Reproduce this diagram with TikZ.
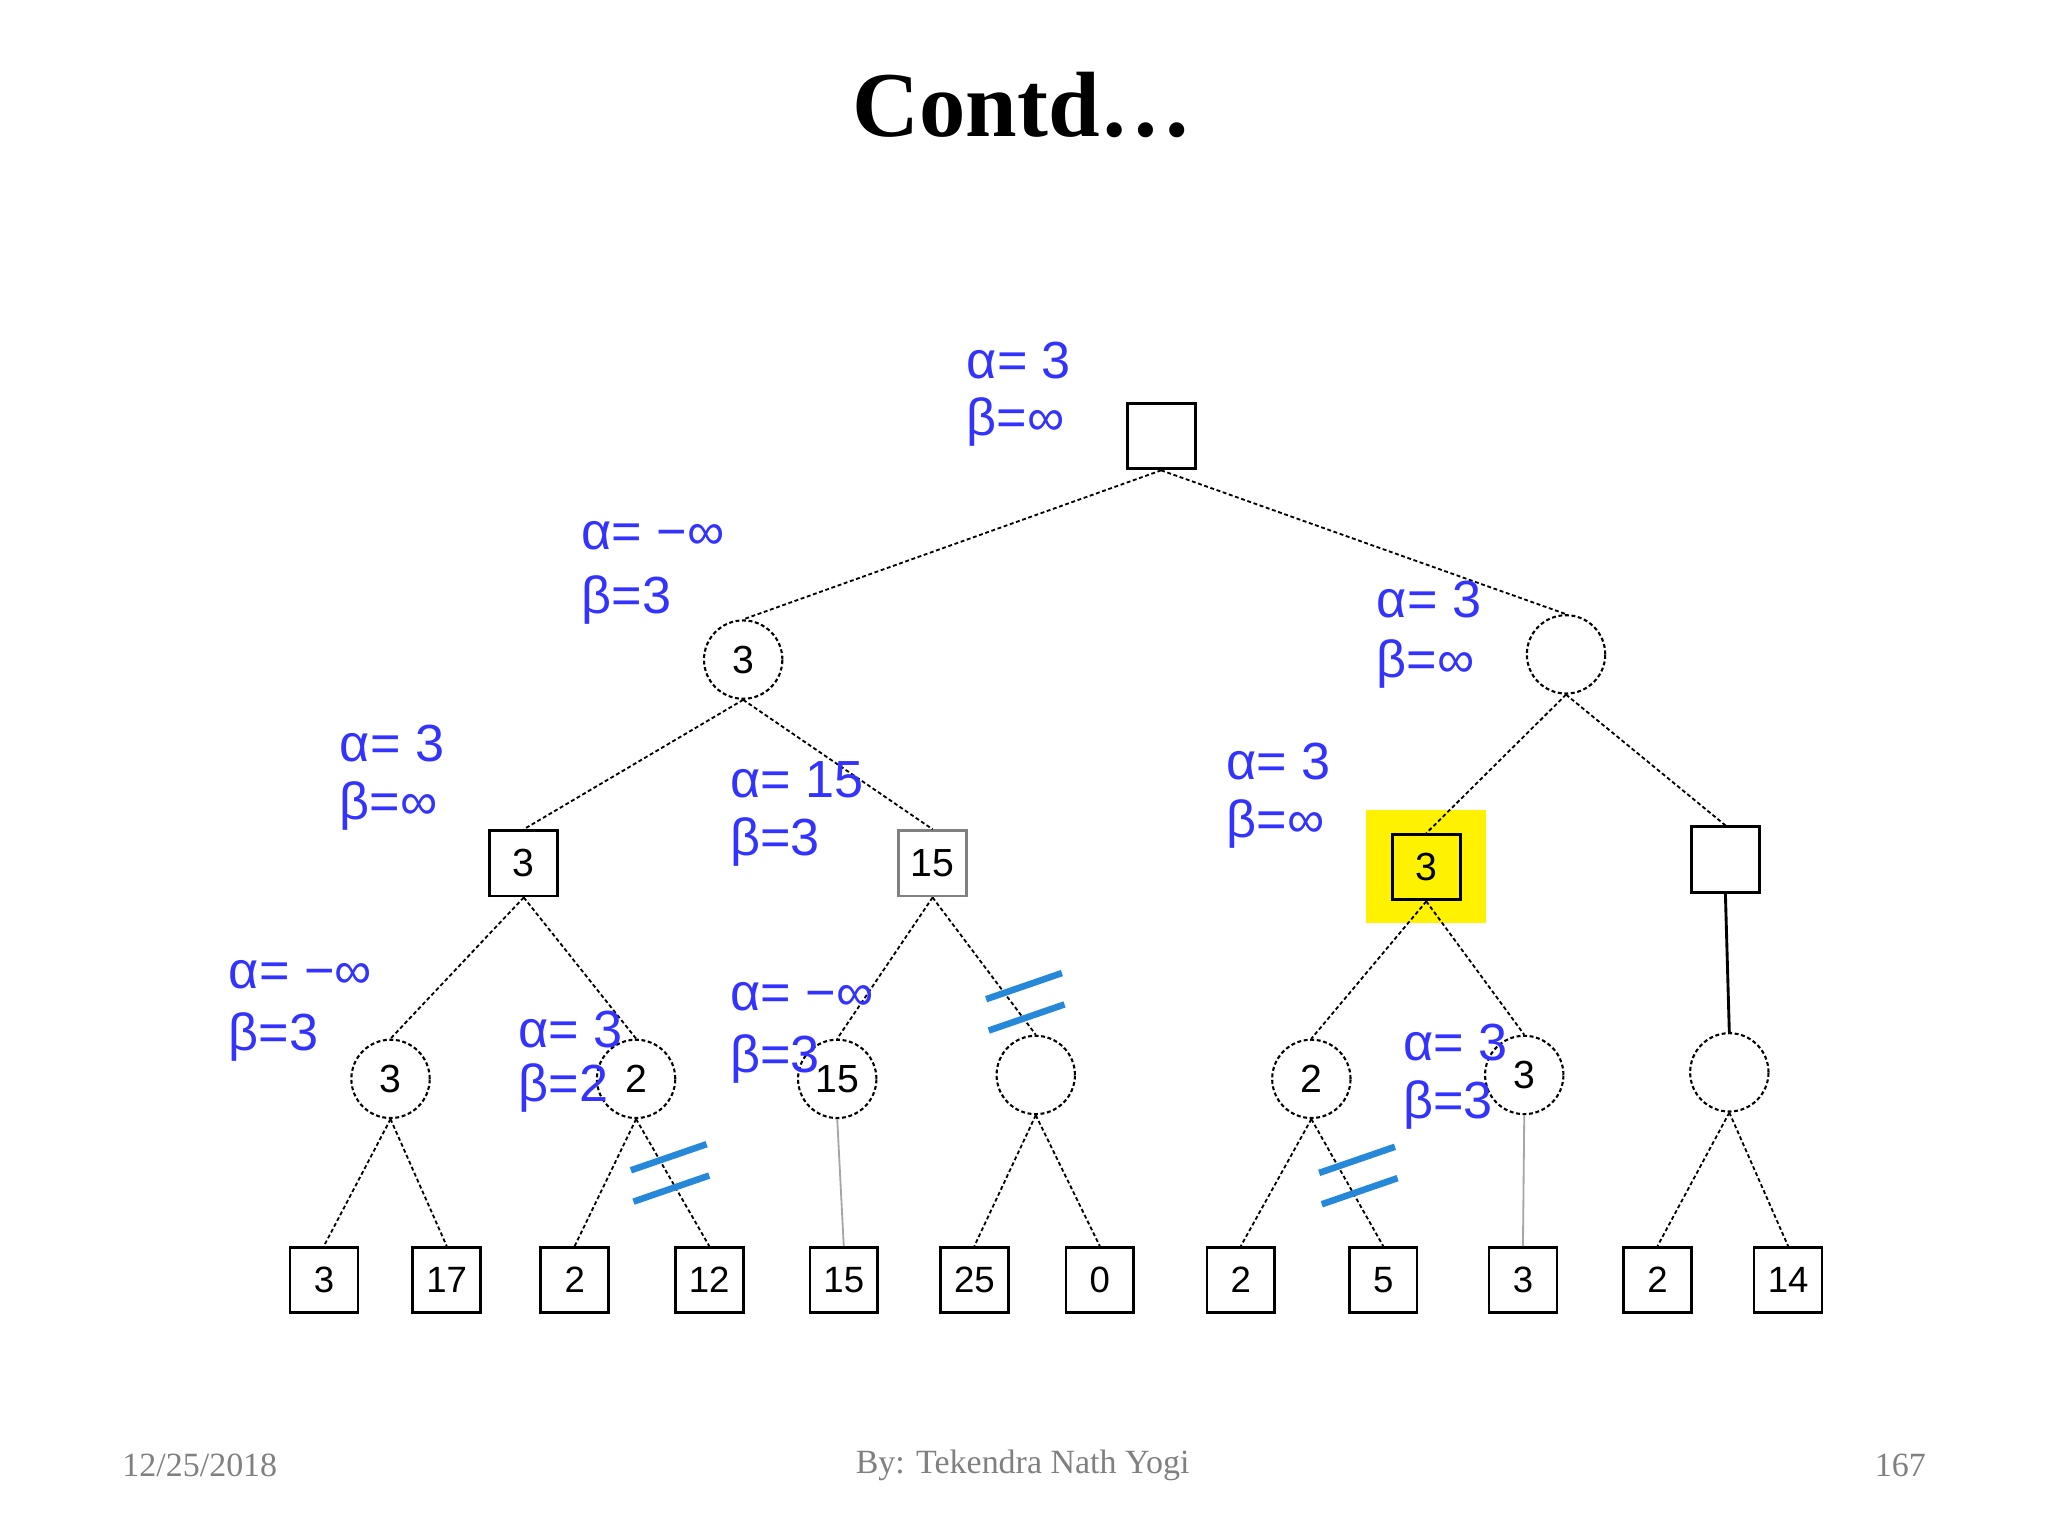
\documentclass[tikz,border=0pt]{standalone}
\usepackage{fontspec}
\setmainfont{Liberation Serif}
\newfontfamily\lab{Liberation Sans}
\begin{document}
\begin{tikzpicture}[x=1pt,y=-1pt,
 sq/.style={draw,line width=2.2pt,minimum width=52pt,minimum height=50pt,inner sep=0pt,font=\lab\fontsize{30}{30}\selectfont},
 lf/.style={draw,line width=2pt,minimum width=52pt,minimum height=50pt,inner sep=0pt,font=\lab\fontsize{28}{28}\selectfont},
 cir/.style={draw,densely dashed,line width=1.6pt,circle,minimum size=60pt,inner sep=0pt,font=\lab\fontsize{30}{30}\selectfont},
 ed/.style={line width=1.4pt,densely dashed},
 gl/.style={line width=1.4pt,gray!70},
 lb/.style={anchor=west,text=blue!80!white,font=\lab\fontsize{40}{40}\selectfont,inner sep=0pt},
 ft/.style={text=gray,font=\fontsize{26}{26}\selectfont},
 cut/.style={line width=5pt,color=blue!45!cyan!70!gray}]
\useasboundingbox (0,0) rectangle (1568,1176);
\node[font=\bfseries\fontsize{71}{71}\selectfont] at (783,80) {Contd…};
\fill[yellow] (1046,620) rectangle (1138,707);
\node[sq] (r) at (889,334) {};
\node[cir] (a) at (569,505) {3};
\node[cir] (b) at (1199,501) {};
\node[sq] (c) at (401,661) {3};
\node[sq,draw=gray] (d) at (714,661) {15};
\node[sq] (e) at (1092,664) {3};
\node[sq] (f) at (1321,658) {};
\node[cir] (g) at (299,826) {3};
\node[cir] (h) at (487,826) {2};
\node[cir] (i) at (641,826) {15};
\node[cir] (j) at (793,823) {};
\node[cir] (k) at (1004,826) {2};
\node[cir] (l) at (1167,823) {3};
\node[cir] (m) at (1324,821) {};
\foreach \n/\x/\v in {l1/248/3,l2/342/17,l3/440/2,l4/543/12,l5/646/15,l6/746/25,l7/842/0,l8/950/2,l9/1059/5,l10/1166/3,l11/1269/2,l12/1369/14}
  \node[lf] (\n) at (\x,980) {\v};
\draw[ed] (r.south) -- (a.north); \draw[ed] (r.south) -- (b.north);
\draw[ed] (a.south) -- (c.north); \draw[ed] (a.south) -- (d.north);
\draw[ed] (b.south) -- (e.north); \draw[ed] (b.south) -- (f.north);
\draw[ed] (c.south) -- (g.north); \draw[ed] (c.south) -- (h.north);
\draw[ed] (d.south) -- (i.north); \draw[ed] (d.south) -- (j.north);
\draw[ed] (e.south) -- (k.north); \draw[ed] (e.south) -- (l.north);
\draw[line width=2.2pt] (f.south) -- (m.north);
\draw[ed] (g.south) -- (l1.north); \draw[ed] (g.south) -- (l2.north);
\draw[ed] (h.south) -- (l3.north); \draw[ed] (h.south) -- (l4.north);
\draw[gl] (i.south) -- (l5.north);
\draw[ed] (j.south) -- (l6.north); \draw[ed] (j.south) -- (l7.north);
\draw[ed] (k.south) -- (l8.north); \draw[ed] (k.south) -- (l9.north);
\draw[gl] (l.south) -- (l10.north);
\draw[ed] (m.south) -- (l11.north); \draw[ed] (m.south) -- (l12.north);
\foreach \cx/\cy in {785/767,513/898,1040/900}{
 \draw[cut] (\cx-30,\cy-2) -- (\cx+28,\cy-22);
 \draw[cut] (\cx-28,\cy+22) -- (\cx+30,\cy+2);}
\node[lb] at (740,276) {α= 3}; \node[lb] at (740,323) {β=∞};
\node[lb] at (445,410) {α= −∞}; \node[lb] at (445,459) {β=3};
\node[lb] at (1054,459) {α= 3}; \node[lb] at (1054,508) {β=∞};
\node[lb] at (260,569) {α= 3}; \node[lb] at (260,617) {β=∞};
\node[lb] at (559,597) {α= 15}; \node[lb] at (559,645) {β=3};
\node[lb] at (939,583) {α= 3}; \node[lb] at (939,631) {β=∞};
\node[lb] at (175,746) {α= −∞}; \node[lb] at (175,794) {β=3};
\node[lb] at (397,788) {α= 3}; \node[lb] at (397,833) {β=2};
\node[lb] at (559,763) {α= −∞}; \node[lb] at (559,811) {β=3};
\node[lb] at (1074,798) {α= 3}; \node[lb] at (1074,846) {β=3};
\node[ft] at (153,1122) {12/25/2018};
\node[ft] at (783,1122) {By: Tekendra Nath Yogi};
\node[ft] at (1455,1122) {167};
\end{tikzpicture}
\end{document}
